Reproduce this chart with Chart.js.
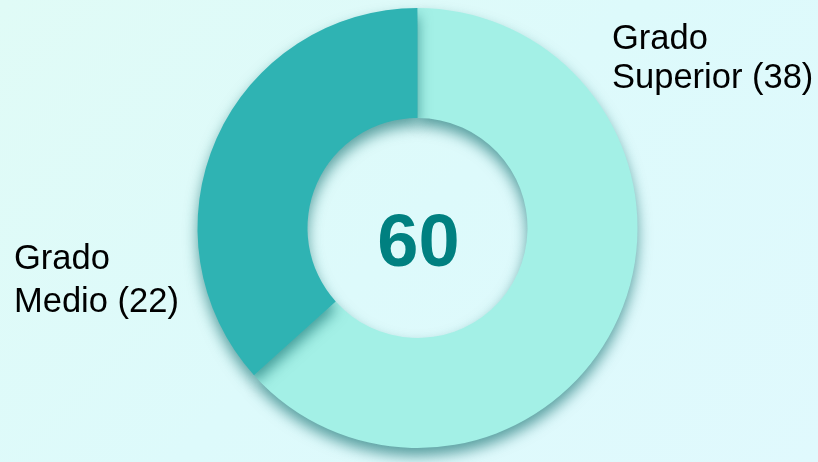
<!DOCTYPE html>
<html>
<head>
<meta charset="utf-8">
<script src="https://cdn.jsdelivr.net/npm/chart.js@4/dist/chart.umd.min.js"></script>
<style>
  html, body { margin: 0; padding: 0; }
  body {
    width: 818px; height: 462px; overflow: hidden;
    background: linear-gradient(135deg, #e0fbf6 0%, #ddfafb 50%, #e0f9fd 100%);
  }
  #wrap { position: relative; width: 818px; height: 462px; }
</style>
</head>
<body>
<div id="wrap"><canvas id="c" width="818" height="462"></canvas></div>
<script>
const categories = ['Grado Superior', 'Grado Medio'];
const values = [38, 22];
const colors = ['#a3f0e6', '#2fb3b3'];
const total = values.reduce((a, b) => a + b, 0);

// Sombra bajo el anillo
const shadowPlugin = {
  id: 'ringShadow',
  beforeDatasetsDraw(chart) {
    const ctx = chart.ctx;
    ctx.save();
    ctx.shadowColor = 'rgba(0, 100, 100, 0.6)';
    ctx.shadowBlur = 14;
    ctx.shadowOffsetY = 8;
  },
  afterDatasetsDraw(chart) {
    chart.ctx.restore();
  },
};

// Total en el centro + etiquetas laterales
const textPlugin = {
  id: 'texts',
  afterDraw(chart) {
    const ctx = chart.ctx;
    const arc = chart.getDatasetMeta(0).data[0];
    ctx.save();
    ctx.fillStyle = '#008080';
    ctx.font = 'bold 74px "Liberation Sans", Arial, sans-serif';
    ctx.textAlign = 'center';
    ctx.textBaseline = 'alphabetic';
    ctx.fillText(String(total), arc.x + 1, 266);

    ctx.fillStyle = '#000';
    ctx.font = '34.5px "Liberation Sans", Arial, sans-serif';
    ctx.textAlign = 'left';
    ctx.fillText('Grado', 612, 49);
    ctx.fillText('Superior (' + values[0] + ')', 612, 88);
    ctx.fillText('Grado', 14, 269);
    ctx.fillText('Medio (' + values[1] + ')', 14, 312);
    ctx.restore();
  },
};

new Chart(document.getElementById('c'), {
  type: 'doughnut',
  data: {
    labels: categories,
    datasets: [{
      data: values,
      backgroundColor: colors,
      borderWidth: 0,
      hoverOffset: 0,
    }],
  },
  options: {
    responsive: false,
    animation: false,
    cutout: '50%',
    layout: { padding: { top: 8, bottom: 14, left: 117, right: 100 } },
    plugins: {
      legend: { display: false },
      tooltip: { enabled: false },
    },
  },
  plugins: [shadowPlugin, textPlugin],
});
</script>
</body>
</html>
